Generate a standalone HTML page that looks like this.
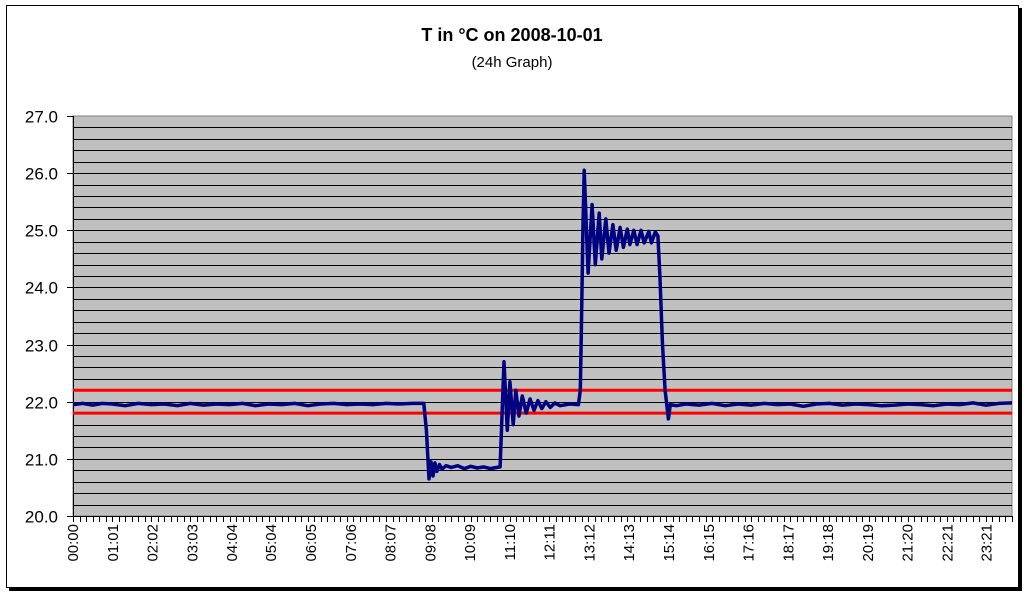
<!DOCTYPE html>
<html><head><meta charset="utf-8"><style>
html,body{margin:0;padding:0;background:#fff;}
svg{display:block;font-family:"Liberation Sans",Arial,sans-serif;}
</style></head><body>
<svg id="chart" width="1031" height="599" viewBox="0 0 1031 599">
<rect x="9" y="8" width="1013" height="583" fill="#000"/>
<rect x="6.5" y="5.5" width="1012" height="582" fill="#fff" stroke="#000" stroke-width="1"/>
<text x="512" y="41" text-anchor="middle" font-size="18" font-weight="bold">T in °C on 2008-10-01</text>
<text x="512" y="67" text-anchor="middle" font-size="15">(24h Graph)</text>
<g id="plot"></g>
</svg>
<script>
const yTicks = [20,21,22,23,24,25,26,27];
const limitLines = [22.2, 21.8];
const xLabels = ["00:00","01:01","02:02","03:03","04:04","05:04","06:05","07:06","08:07","09:08","10:09","11:10","12:11","13:12","14:13","15:14","16:15","17:16","18:17","19:18","20:19","21:20","22:21","23:21"];
const xLabelMinutes = [0,61,122,183,244,304,365,426,487,548,609,670,731,792,853,914,975,1036,1097,1158,1219,1280,1341,1401];
const minutes = [0,15,30,45,60,80,100,120,140,160,180,200,220,240,260,280,300,320,340,360,380,400,420,440,460,480,500,520,538,542,546,549,552,555,558,562,566,572,580,590,600,610,620,630,640,650,655,658,661,666,670,675,679,684,689,695,701,707,713,719,725,732,739,747,762,775,778,780,782,784,790,796,801,807,811,817,822,828,833,839,844,850,854,860,865,871,876,883,887,893,897,900,904,908,913,916,925,940,960,980,1000,1020,1040,1060,1080,1100,1120,1140,1160,1180,1200,1220,1240,1260,1280,1300,1320,1340,1360,1380,1400,1420,1440];
const temps = [21.95,21.97,21.94,21.97,21.96,21.93,21.97,21.95,21.96,21.93,21.97,21.94,21.96,21.95,21.97,21.93,21.96,21.95,21.97,21.93,21.96,21.97,21.95,21.96,21.95,21.97,21.96,21.97,21.97,21.5,20.65,20.95,20.7,20.93,20.78,20.9,20.82,20.88,20.85,20.88,20.83,20.87,20.84,20.86,20.83,20.85,20.86,21.8,22.7,21.5,22.35,21.6,22.2,21.75,22.1,21.8,22.05,21.85,22.02,21.88,22.0,21.9,21.98,21.93,21.96,21.95,22.2,23.5,25.0,26.05,24.25,25.45,24.4,25.3,24.5,25.2,24.6,25.1,24.65,25.05,24.7,25.02,24.75,25.0,24.75,25.0,24.78,24.98,24.78,24.97,24.9,24.2,23.0,22.2,21.7,21.95,21.93,21.96,21.94,21.97,21.93,21.96,21.94,21.97,21.95,21.96,21.92,21.96,21.97,21.94,21.96,21.95,21.93,21.94,21.96,21.95,21.93,21.96,21.95,21.98,21.94,21.97,21.98];

const NS="http://www.w3.org/2000/svg";
const g=document.getElementById('plot');
const X0=73,X1=1012,Y0=116,Y1=516,VMIN=20,VMAX=27,MMAX=1440;
const xs=m=>X0+(m/MMAX)*(X1-X0);
const ys=v=>Y1-(v-VMIN)/(VMAX-VMIN)*(Y1-Y0);
function mk(t,a){const e=document.createElementNS(NS,t);for(const k in a)e.setAttribute(k,a[k]);g.appendChild(e);return e;}

const bg=mk('rect',{x:X0,y:Y0,width:X1-X0,height:Y1-Y0,fill:'#c0c0c0',stroke:'#808080','stroke-width':1});


for(let v=VMIN+0.2;v<VMAX-0.01;v+=0.2){
  const y=Math.round(ys(v))+0.5;
  const l=mk('line',{x1:X0,x2:X1,y1:y,y2:y,stroke:'#000','stroke-width':1});
  
  
}
yTicks.forEach(v=>{
  const y=Math.round(ys(v))+0.5;
  const t=mk('line',{x1:X0-6,x2:X0,y1:y,y2:y,stroke:'#000'});
  
  
  const tx=mk('text',{x:58,y:y+6,'text-anchor':'end','font-size':17});
  tx.textContent=v.toFixed(1);
  
  
});
const ax=mk('line',{x1:X0+0.5,x2:X0+0.5,y1:Y0,y2:Y1,stroke:'#000'});


const bx=mk('line',{x1:X0,x2:X1,y1:Y1+0.5,y2:Y1+0.5,stroke:'#000'});


for(let m=0;m<=MMAX;m+=10){
  const x=Math.round(xs(m))+0.5;
  const t=mk('line',{x1:x,x2:x,y1:Y1,y2:Y1+6,stroke:'#000'});
  
  
}
xLabels.forEach((s,i)=>{
  const x=xs(xLabelMinutes[i])+5;
  const t=mk('text',{x:0,y:0,'text-anchor':'end','font-size':15,transform:`translate(${x},524) rotate(-90)`});
  t.textContent=s;
  
  
});
limitLines.forEach(v=>{
  const l=mk('line',{x1:X0,x2:X1,y1:ys(v),y2:ys(v),stroke:'#ff0000','stroke-width':3});
  
  
});
const pts=minutes.map((m,i)=>xs(m).toFixed(1)+','+ys(temps[i]).toFixed(1)).join(' ');
const pl=mk('polyline',{points:pts,fill:'none',stroke:'#000080','stroke-width':3.5,'stroke-linejoin':'round'});


</script>
</body></html>
